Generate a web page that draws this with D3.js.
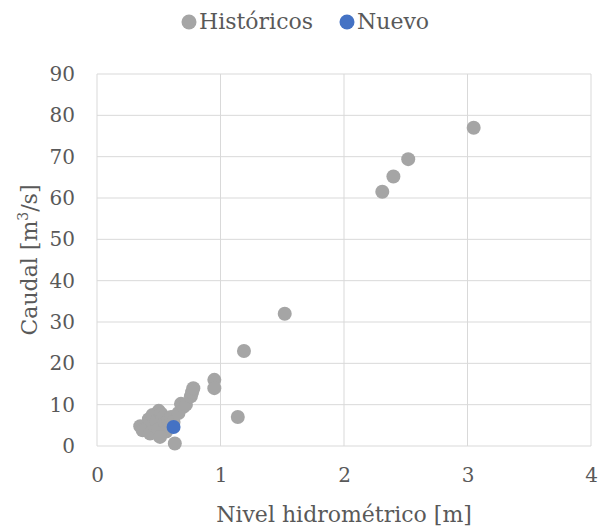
<!DOCTYPE html>
<html>
<head>
  <meta charset="utf-8">
  <title>Caudal vs Nivel</title>
  <script src="https://d3js.org/d3.v7.min.js"></script>
  <style>
    body { margin: 0; padding: 0; background: #fff; }
    text { font-family: "DejaVu Serif", serif; fill: #595959; }
  </style>
</head>
<body>
  <div id="chart"></div>
  <script>
    // Data
    var seriesNames = ["Históricos", "Nuevo"];
    var seriesColors = ["#A5A5A5", "#4472C4"];

    var histX = [0.35, 0.37, 0.40, 0.42, 0.43, 0.45, 0.46, 0.48, 0.50, 0.50, 0.52, 0.53, 0.55, 0.56, 0.58, 0.60, 0.62, 0.51, 0.63,
                 0.66, 0.68, 0.70, 0.72, 0.76, 0.77, 0.78, 0.95, 0.95, 1.14, 1.19, 1.52, 2.31, 2.40, 2.52, 3.05];
    var histY = [4.8, 3.8, 4.2, 6.5, 3.0, 7.5, 5.0, 6.0, 8.5, 4.0, 7.8, 6.8, 5.5, 3.5, 6.2, 7.0, 5.8, 2.2, 0.6,
                 8.0, 10.2, 9.5, 10.0, 12.0, 13.0, 14.0, 16.0, 14.0, 7.0, 23.0, 32.0, 61.5, 65.2, 69.4, 77.0];
    var newX = [0.62];
    var newY = [4.6];

    var xTicks = [0, 1, 2, 3, 4];
    var yTicks = [0, 10, 20, 30, 40, 50, 60, 70, 80, 90];

    var width = 598, height = 531;
    var margin = { top: 74, right: 7, bottom: 85, left: 97 };

    var svg = d3.select("#chart")
      .append("svg")
        .attr("width", width)
        .attr("height", height);

    var x = d3.scaleLinear().domain([0, 4]).range([margin.left, width - margin.right]);
    var y = d3.scaleLinear().domain([0, 90]).range([height - margin.bottom, margin.top]);

    // gridlines
    svg.append("g").selectAll("line.h")
      .data(yTicks).enter().append("line")
        .attr("x1", x(0)).attr("x2", x(4))
        .attr("y1", function(d) { return y(d); }).attr("y2", function(d) { return y(d); })
        .attr("stroke", "#D9D9D9").attr("stroke-width", 1);
    svg.append("g").selectAll("line.v")
      .data(xTicks).enter().append("line")
        .attr("y1", y(0)).attr("y2", y(90))
        .attr("x1", function(d) { return x(d); }).attr("x2", function(d) { return x(d); })
        .attr("stroke", "#D9D9D9").attr("stroke-width", 1);

    // axes (labels only)
    var xAxis = svg.append("g")
      .attr("transform", "translate(0," + y(0) + ")")
      .call(d3.axisBottom(x).tickValues(xTicks).tickFormat(d3.format("d")).tickSize(0).tickPadding(22));
    var yAxis = svg.append("g")
      .attr("transform", "translate(" + x(0) + ",0)")
      .call(d3.axisLeft(y).tickValues(yTicks).tickFormat(d3.format("d")).tickSize(0).tickPadding(22));
    [xAxis, yAxis].forEach(function(a) {
      a.select(".domain").remove();
      a.selectAll("text").attr("font-family", "DejaVu Serif").attr("font-size", 20).attr("fill", "#595959");
    });

    // points
    var hist = histX.map(function(d, i) { return [d, histY[i]]; });
    var nuevo = newX.map(function(d, i) { return [d, newY[i]]; });

    svg.append("g").selectAll("circle")
      .data(hist).enter().append("circle")
        .attr("cx", function(d) { return x(d[0]); })
        .attr("cy", function(d) { return y(d[1]); })
        .attr("r", 7)
        .attr("fill", seriesColors[0]);

    svg.append("g").selectAll("circle")
      .data(nuevo).enter().append("circle")
        .attr("cx", function(d) { return x(d[0]); })
        .attr("cy", function(d) { return y(d[1]); })
        .attr("r", 7)
        .attr("fill", seriesColors[1]);

    // axis titles
    svg.append("text")
      .attr("x", (x(0) + x(4)) / 2)
      .attr("y", 522)
      .attr("text-anchor", "middle")
      .attr("font-size", 22)
      .text("Nivel hidrométrico [m]");

    var yt = svg.append("text")
      .attr("transform", "translate(37,260) rotate(-90)")
      .attr("text-anchor", "middle")
      .attr("font-size", 22);
    yt.append("tspan").text("Caudal [m");
    yt.append("tspan").attr("font-size", 14).attr("dy", -9).text("3");
    yt.append("tspan").attr("dy", 9).text("/s]");

    // legend
    var legend = svg.append("g").attr("transform", "translate(0,22)");
    var legX = [189, 347];
    seriesNames.forEach(function(name, i) {
      legend.append("circle")
        .attr("cx", legX[i]).attr("cy", 0).attr("r", 7.5)
        .attr("fill", seriesColors[i]);
      legend.append("text")
        .attr("x", legX[i] + 10).attr("y", 7)
        .attr("font-size", 22)
        .text(name);
    });
  </script>
</body>
</html>
